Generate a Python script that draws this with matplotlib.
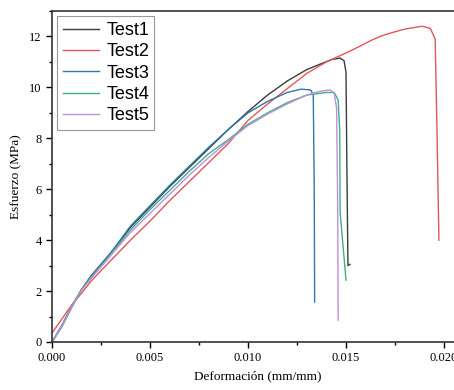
import matplotlib.pyplot as plt
from matplotlib.ticker import MultipleLocator

# Strain (mm/mm) and stress (MPa)
x1 = [0, 0.0005, 0.001, 0.0015, 0.002, 0.0025, 0.003, 0.004, 0.005, 0.006, 0.007, 0.008,
      0.009, 0.010, 0.011, 0.012, 0.013, 0.0138, 0.0143, 0.0147, 0.0149, 0.01500, 0.01505,
      0.01510, 0.01520]
y1 = [0, 0.65, 1.4, 2.05, 2.6, 3.05, 3.5, 4.5, 5.3, 6.1, 6.85, 7.6,
      8.35, 9.05, 9.7, 10.25, 10.7, 10.95, 11.1, 11.15, 11.05, 10.6, 6.5,
      3.0, 3.05]

x2 = [0, 0.0005, 0.001, 0.0016, 0.002, 0.0025, 0.003, 0.004, 0.005, 0.006, 0.007, 0.008,
      0.009, 0.010, 0.011, 0.012, 0.013, 0.014, 0.015, 0.0158, 0.0163, 0.0168, 0.0173,
      0.01785, 0.0183, 0.01888, 0.0193, 0.01955, 0.01965, 0.01974]
y2 = [0.35, 0.9, 1.45, 2.0, 2.4, 2.8, 3.2, 4.0, 4.75, 5.55, 6.3, 7.05,
      7.8, 8.7, 9.35, 9.95, 10.55, 11.0, 11.35, 11.65, 11.85, 12.02, 12.14,
      12.26, 12.33, 12.4, 12.32, 11.9, 8.0, 4.0]

x3 = [0, 0.0005, 0.001, 0.0015, 0.002, 0.0025, 0.003, 0.004, 0.005, 0.006, 0.007, 0.008,
      0.009, 0.010, 0.011, 0.012, 0.0127, 0.0132, 0.01333, 0.01338, 0.0134]
y3 = [0, 0.6, 1.35, 2.05, 2.6, 3.05, 3.5, 4.55, 5.35, 6.15, 6.9, 7.65,
      8.35, 9.0, 9.45, 9.8, 9.93, 9.9, 9.7, 6.0, 1.57]

x4 = [0, 0.0005, 0.001, 0.0015, 0.002, 0.0025, 0.003, 0.004, 0.005, 0.006, 0.007, 0.008,
      0.009, 0.010, 0.011, 0.012, 0.013, 0.014, 0.0144, 0.0146, 0.01468, 0.0147, 0.0150]
y4 = [0, 0.62, 1.38, 2.05, 2.55, 3.0, 3.45, 4.4, 5.2, 5.95, 6.7, 7.4,
      7.95, 8.55, 9.0, 9.4, 9.7, 9.8, 9.8, 9.5, 8.3, 5.1, 2.43]

x5 = [0, 0.0005, 0.001, 0.0015, 0.002, 0.0025, 0.003, 0.004, 0.005, 0.006, 0.007, 0.008,
      0.009, 0.010, 0.011, 0.012, 0.013, 0.0137, 0.0142, 0.0144, 0.01452, 0.01458, 0.0146]
y5 = [0, 0.62, 1.38, 2.02, 2.5, 2.95, 3.4, 4.3, 5.05, 5.8, 6.55, 7.25,
      7.9, 8.5, 8.95, 9.35, 9.7, 9.85, 9.9, 9.75, 9.2, 5.0, 0.86]

labels = ['Test1', 'Test2', 'Test3', 'Test4', 'Test5']
colors = ['#3c3c3c', '#e05858', '#2f78a8', '#3fae8a', '#c08fd8']

fig = plt.figure(figsize=(4.54, 3.90), dpi=100)
ax = fig.add_axes([52 / 454, 48 / 390, 411.6 / 454, 331 / 390])

for xs, ys, lab, c in zip([x1, x2, x3, x4, x5], [y1, y2, y3, y4, y5], labels, colors):
    ax.plot(xs, ys, color=c, lw=1.0, label=lab)

ax.set_xlim(0, 0.021)
ax.set_ylim(0, 13)
ax.xaxis.set_major_locator(MultipleLocator(0.005))
ax.xaxis.set_minor_locator(MultipleLocator(0.0025))
ax.yaxis.set_major_locator(MultipleLocator(2))
ax.yaxis.set_minor_locator(MultipleLocator(1))
ax.xaxis.set_major_formatter(plt.FuncFormatter(lambda v, p: f'{v:.3f}'))

for lab in ax.get_xticklabels() + ax.get_yticklabels():
    lab.set_fontfamily('Liberation Serif')
ax.tick_params(which='major', direction='out', length=4, width=1, labelsize=9)
ax.tick_params(which='minor', direction='out', length=2.5, width=1)
for sp in ax.spines.values():
    sp.set_linewidth(1.2)
    sp.set_color('#333333')

ax.set_xlabel('Deformación (mm/mm)', family='Liberation Serif', fontsize=9.5)
ax.set_ylabel('Esfuerzo (MPa)', family='Liberation Serif', fontsize=9.5, labelpad=5)

leg = ax.legend(loc='upper left', prop={'family': 'Liberation Sans', 'size': 13},
                fancybox=False, framealpha=1, edgecolor='#999999', borderaxespad=0.3,
                handlelength=2.0, labelspacing=0.24, borderpad=0.3, handletextpad=0.4)
leg.get_frame().set_linewidth(0.8)

fig.savefig('out.png', dpi=100)
